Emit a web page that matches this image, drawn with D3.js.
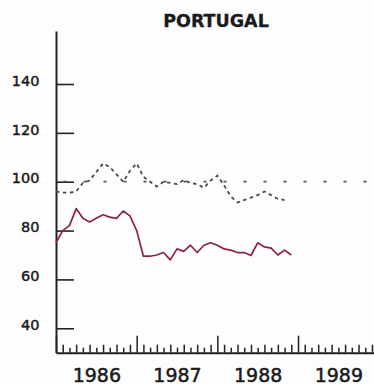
<!DOCTYPE html>
<html>
<head>
<meta charset="utf-8">
<script src="https://cdn.jsdelivr.net/npm/d3@7"></script>
<style>
  html, body { margin: 0; padding: 0; background: #fdfdfd; }
  svg { display: block; }
  text { font-family: "DejaVu Sans", sans-serif; fill: #1a1a1a; }
</style>
</head>
<body>
<svg id="chart" width="374" height="385"></svg>
<script>
// Monthly index values, January 1986 onward
const startYear = 1986;
const years = [1986, 1987, 1988, 1989];
const yTicks = [40, 60, 80, 100, 120, 140];
const title = "PORTUGAL";

// Solid series (Jan 1986 - Dec 1988)
const solidSeries = [
  75, 80, 82, 89, 85, 83.5, 85, 86.5, 85.5, 85, 88, 86,
  80, 69.5, 69.5, 70, 71, 68, 72.5, 71.5, 74, 71, 74, 75,
  74, 72.5, 72, 71, 71, 69.8, 75, 73.3, 72.8, 70, 72, 70
];

// Dashed series (Jan 1986 - Nov 1988)
const dashedSeries = [
  96, 95.5, 95.5, 96, 99.5, 100.5, 104, 107.5, 106, 103, 100, 104.5,
  107.5, 102, 100, 98, 100, 99.5, 99, 100.7, 99.5, 99, 97.5, 100.5,
  102.5, 98.5, 94, 91.5, 92.5, 93.5, 94.5, 96, 94.5, 93, 92.5
];

// Reference level
const baseLevel = 100;

const svg = d3.select("#chart");

const x = d3.scaleLinear().domain([1986, 1990]).range([56, 378.7]);
const y = d3.scaleLinear().domain([30, 161.7]).range([352.7, 31]);
const monthX = i => x(startYear + i / 12);

// Title
svg.append("text")
  .attr("x", 216).attr("y", 27.3)
  .attr("text-anchor", "middle")
  .attr("font-size", 17.5).attr("font-weight", "bold")
  .attr("stroke", "#1a1a1a").attr("stroke-width", 0.3)
  .text(title);

// Y axis: ticks point into the plot, labels on the left
const yAxis = d3.axisLeft(y)
  .tickValues(yTicks)
  .tickSizeInner(-18)
  .tickSizeOuter(0)
  .tickPadding(16.5)
  .tickFormat(d3.format("d"));

const gy = svg.append("g").attr("transform", "translate(56,0)").call(yAxis);
gy.select(".domain").attr("stroke", "#222").attr("stroke-width", 2);
gy.selectAll(".tick line").attr("stroke", "#222").attr("stroke-width", 1.6);
gy.selectAll(".tick text")
  .attr("font-size", 14.5)
  .attr("font-family", "DejaVu Sans, sans-serif")
  .attr("fill", "#1a1a1a")
  .attr("stroke", "#1a1a1a").attr("stroke-width", 0.45)
  .attr("dy", null)
  .attr("y", 1.2);

// X axis: monthly ticks, taller on odd months, tallest at year starts
const monthTicks = d3.range(0, 49).map(i => startYear + i / 12);
const xAxis = d3.axisBottom(x)
  .tickValues(monthTicks)
  .tickSizeOuter(0)
  .tickFormat("");

const gx = svg.append("g").attr("transform", "translate(0,352.7)").call(xAxis);
gx.select(".domain").attr("stroke", "#222").attr("stroke-width", 2);
gx.selectAll(".tick line")
  .attr("stroke", "#222")
  .attr("stroke-width", 1.5)
  .attr("y2", (d, i) => i % 12 === 0 ? -17 : (i % 2 === 1 ? -8 : -5));

// Year labels centred within each year
const yearAxis = d3.axisBottom(x)
  .tickValues(years.map(v => v + 0.5))
  .tickSize(0)
  .tickPadding(0)
  .tickFormat(d => String(Math.floor(d)));
const gyr = svg.append("g").attr("transform", "translate(0,382)").call(yearAxis);
gyr.select(".domain").remove();
gyr.selectAll(".tick text")
  .attr("font-size", 19)
  .attr("font-family", "DejaVu Sans, sans-serif")
  .attr("fill", "#1a1a1a")
  .attr("stroke", "#1a1a1a").attr("stroke-width", 0.5)
  .attr("dy", null)
  .attr("y", 0);

// Dotted reference line at 100
svg.append("line")
  .attr("x1", x(1986)).attr("x2", 374)
  .attr("y1", y(baseLevel)).attr("y2", y(baseLevel))
  .attr("stroke", "#555")
  .attr("stroke-width", 1.8)
  .attr("stroke-dasharray", "3,17")
  .attr("stroke-dashoffset", 12.5);

const line = d3.line()
  .x((d, i) => monthX(i))
  .y(d => y(d));

// Dashed series
svg.append("path")
  .datum(dashedSeries)
  .attr("d", line)
  .attr("fill", "none")
  .attr("stroke", "#4a4a4a")
  .attr("stroke-width", 1.8)
  .attr("stroke-dasharray", "3.5,3.5");

// Solid series
svg.append("path")
  .datum(solidSeries)
  .attr("d", line)
  .attr("fill", "none")
  .attr("stroke", "#8e2245")
  .attr("stroke-width", 1.7)
  .attr("stroke-linejoin", "round");
</script>
</body>
</html>
